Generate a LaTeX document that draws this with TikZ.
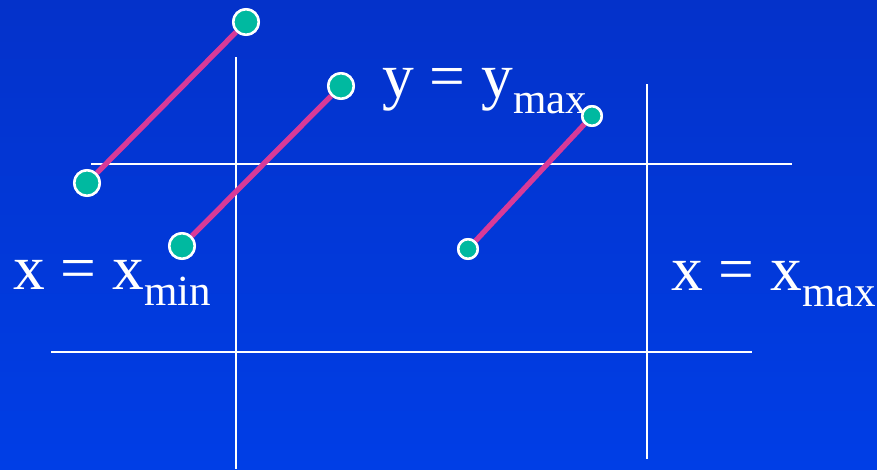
\documentclass[tikz,border=0pt]{standalone}
\usepackage{fontspec}
\setmainfont{Liberation Serif}
\definecolor{bgtop}{RGB}{4,50,202}
\definecolor{bgbot}{RGB}{0,62,230}
\definecolor{teal}{RGB}{0,185,160}
\definecolor{pinkline}{RGB}{216,58,152}
\newcommand{\mylbl}[2]{{\fontsize{63.5}{63.5}\selectfont #1 = #1\raisebox{-16pt}{\fontsize{43}{43}\selectfont #2}}}
\tikzset{
  gridline/.style={draw=white, line width=2.6pt},
  seg/.style={draw=pinkline, line width=5.3pt},
  bigpt/.style={circle, fill=teal, draw=white, line width=2.5pt, minimum size=25.5pt, inner sep=0pt},
  smallpt/.style={circle, fill=teal, draw=white, line width=2.5pt, minimum size=19.5pt, inner sep=0pt},
  lbl/.style={text=white, inner sep=0pt, anchor=base west}
}
\begin{document}
\begin{tikzpicture}[x=1pt, y=-1pt]
\useasboundingbox (0,0) rectangle (877,469);
\shade[top color=bgtop, bottom color=bgbot] (0,0) rectangle (877,469);
% clipping window lines
\coordinate (v1t) at (236,57);  \coordinate (v1b) at (236,469);
\coordinate (v2t) at (647,84);  \coordinate (v2b) at (647,459);
\coordinate (h1l) at (91,164);  \coordinate (h1r) at (792,164);
\coordinate (h2l) at (51,352);  \coordinate (h2r) at (752,352);
\draw[gridline] (v1t) -- (v1b);
\draw[gridline] (v2t) -- (v2b);
\draw[gridline] (h1l) -- (h1r);
\draw[gridline] (h2l) -- (h2r);
% labels
\node[lbl] (ymax) at (382,97) {\mylbl{y}{max}};
\node[lbl] (xmin) at (13,289) {\mylbl{x}{min}};
\node[lbl] (xmax) at (671,290) {\mylbl{x}{max}};
% endpoints
\node[bigpt] (a1) at (87,183) {};
\node[bigpt] (a2) at (246,22) {};
\node[bigpt] (b1) at (182,246) {};
\node[bigpt] (b2) at (341,86) {};
\node[smallpt] (c1) at (468,249) {};
\node[smallpt] (c2) at (592,116) {};
% segments
\draw[seg] (a1) -- (a2);
\draw[seg] (b1) -- (b2);
\draw[seg] (c1) -- (c2);
% circles on top of the segment ends
\node[bigpt] at (a1) {};
\node[bigpt] at (a2) {};
\node[bigpt] at (b1) {};
\node[bigpt] at (b2) {};
\node[smallpt] at (c1) {};
\node[smallpt] at (c2) {};
\end{tikzpicture}
\end{document}
